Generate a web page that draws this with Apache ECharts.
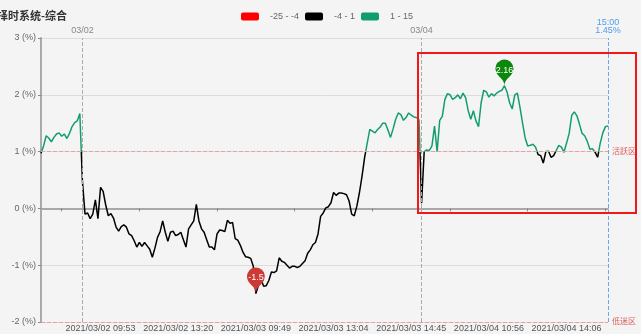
<!DOCTYPE html>
<html>
<head>
<meta charset="utf-8">
<script src="https://cdn.jsdelivr.net/npm/echarts@6/dist/echarts.min.js"></script>
<style>html,body{margin:0;padding:0;background:#f4f4f4;}#c{width:641px;height:334px;}</style>
</head>
<body>
<div id="c"></div>
<script>
// ---- data ----
const t0301 = ['14:09','14:12','14:16','14:19','14:23','14:26','14:29','14:33','14:36','14:40','14:43','14:46','14:50','14:53','14:57','15:00'];
const t0302 = ['09:30','09:33','09:36','09:40','09:43','09:46','09:50','09:53',
  '09:57','10:01','10:05','10:09','10:13','10:17','10:21','10:25','10:29','10:33','10:37','10:41','10:45','10:49','10:53','10:57','11:01','11:05','11:09','11:13','11:17','11:21','11:25','11:29',
  '13:00','13:04','13:08','13:12','13:16','13:20',
  '13:24','13:28','13:32','13:36','13:40','13:44','13:48','13:51','13:55','13:59','14:03','14:07','14:11','14:15','14:19','14:23','14:27','14:31','14:35','14:39','14:43','14:47','14:51','14:54','14:57','15:00'];
const t0303 = ['09:30','09:36','09:43','09:49',
  '09:53','09:56','10:00','10:03','10:07','10:10','10:14','10:17','10:21','10:24','10:28','10:31','10:35','10:38','10:42','10:45','10:49','10:52','10:56','10:59','11:03','11:06','11:10','11:13','11:17','11:20','11:24','11:27',
  '13:00','13:04',
  '13:07','13:11','13:14','13:17','13:21','13:24','13:27','13:31','13:34','13:37','13:41','13:44','13:47','13:51','13:54','13:57','14:01','14:04','14:07','14:11','14:14','14:17','14:21','14:24','14:27','14:31','14:34','14:37','14:41','14:45',
  '14:50','14:55','15:00'];
const t0304 = ['09:30','09:33','09:37','09:40','09:43','09:47','09:50','09:53','09:57','10:00','10:03','10:07','10:10','10:13','10:17','10:20','10:23','10:27','10:30','10:33','10:37','10:40','10:43','10:47','10:50','10:53','10:56',
  '11:00','11:03','11:06','11:10','11:13','11:16','11:20','11:23','11:26','11:30',
  '13:03','13:06','13:10','13:13','13:16','13:20','13:23','13:26','13:30','13:33','13:36','13:40','13:43','13:46','13:50','13:53','13:56','14:00','14:03','14:06',
  '14:09','14:13','14:16','14:20','14:23','14:27','14:30','14:33','14:37','14:40','14:44','14:47','14:50','14:54','14:57','15:00'];

const v0301 = [0.97,1.10,1.28,1.24,1.17,1.25,1.31,1.33,1.27,1.31,1.23,1.32,1.44,1.51,1.54,1.67];
const v0302 = [0.48,-0.10,-0.08,-0.18,-0.10,0.15,-0.18,0.37,0.30,0.06,-0.13,-0.09,-0.17,-0.33,-0.40,-0.32,
  -0.29,-0.33,-0.45,-0.48,-0.57,-0.68,-0.60,-0.67,-0.60,-0.66,-0.72,-0.86,-0.70,-0.51,-0.41,-0.22,
  -0.42,-0.58,-0.42,-0.40,-0.48,-0.46,-0.42,-0.55,-0.68,-0.36,-0.29,-0.22,0.07,-0.22,-0.36,-0.42,
  -0.55,-0.68,-0.68,-0.73,-0.45,-0.38,-0.39,-0.41,-0.21,-0.26,-0.25,-0.53,-0.56,-0.65,-0.77,-0.85];
const v0303 = [-0.86,-0.88,-1.02,-1.50,-1.35,-1.25,-1.37,-1.36,-1.27,-1.12,-1.13,-1.10,-0.87,-0.93,-0.95,-1.00,
  -1.05,-1.02,-1.02,-1.04,-1.02,-0.97,-0.92,-0.79,-0.73,-0.64,-0.60,-0.45,-0.14,-0.08,0.01,0.03,
  0.10,0.28,0.23,0.27,0.27,0.26,0.24,0.13,-0.10,-0.13,0.04,0.28,0.57,0.90,1.15,1.39,
  1.36,1.33,1.39,1.43,1.50,1.50,1.38,1.25,1.40,1.57,1.68,1.65,1.55,1.60,1.68,1.64,1.61,1.60,1.56];
const v0304 = [0.09,1.00,1.03,1.02,1.10,1.45,1.00,1.55,1.62,1.92,2.02,2.00,1.92,1.95,2.00,1.93,
  2.03,1.95,1.72,1.57,1.72,1.54,1.44,1.86,2.08,2.05,1.96,2.02,1.98,2.03,2.06,2.08,
  2.16,2.05,1.86,1.75,2.00,2.03,1.78,1.50,1.24,1.10,1.11,1.13,1.08,0.95,0.93,0.80,
  1.00,1.01,0.90,0.93,1.02,1.11,1.08,0.99,1.15,1.32,1.64,1.70,1.63,1.48,1.32,1.28,
  1.18,1.04,1.05,0.99,0.90,1.15,1.33,1.44,1.45];

const yTicks = [-2, -1, 0, 1, 2, 3];
const pieces = [
  {min: -25, max: -4, color: '#ff0000'},
  {min: -4, max: 1, color: '#000000'},
  {min: 1, max: 15, color: '#129e6c'}
];

// ---- build ----
const categories = [].concat(
  t0301.map(t => '2021/03/01 ' + t),
  t0302.map(t => '2021/03/02 ' + t),
  t0303.map(t => '2021/03/03 ' + t),
  t0304.map(t => '2021/03/04 ' + t)
);
const values = [].concat(v0301, v0302, v0303, v0304);
const lastVal = values[values.length - 1];
const lastCat = categories[categories.length - 1];

const FONT = "'Liberation Sans Narrow','Liberation Sans','Noto Sans CJK SC',sans-serif";
const chart = echarts.init(document.getElementById('c'));
chart.setOption({
  backgroundColor: '#f4f4f4',
  animation: false,
  textStyle: {fontFamily: FONT},
  title: {
    text: '择时系统-综合', left: -8, top: 5,
    textStyle: {fontSize: 11, fontWeight: 'bold', color: '#333', fontFamily: "'Noto Sans CJK SC',sans-serif"}
  },
  visualMap: {
    type: 'piecewise', orient: 'horizontal', left: 226, top: -3,
    seriesIndex: 0, dimension: 1,
    itemWidth: 18, itemHeight: 8, itemGap: 6, textGap: 11,
    textStyle: {fontSize: 9, color: '#666'},
    pieces: pieces
  },
  grid: {left: 41, right: 33, top: 38, bottom: 12},
  xAxis: [{
    type: 'category', data: categories, boundaryGap: false,
    axisLine: {onZero: true, lineStyle: {color: '#a8a8a8', width: 2}},
    axisTick: {show: true, length: 3, interval: (i) => i >= 8 && (i - 8) % 30 === 0, lineStyle: {color: '#888'}},
    axisLabel: {show: false}
  }, {
    type: 'category', data: categories, boundaryGap: false, position: 'bottom',
    axisLine: {show: false, onZero: false}, axisTick: {show: false},
    axisLabel: {interval: (i) => i >= 23 && (i - 23) % 30 === 0, fontSize: 9, color: '#555', margin: 2}
  }],
  yAxis: {
    type: 'value', min: yTicks[0], max: yTicks[yTicks.length - 1], interval: 1,
    axisLine: {show: true, lineStyle: {color: '#aaa', width: 2}},
    axisTick: {show: true, length: 3, lineStyle: {color: '#888'}},
    axisLabel: {formatter: '{value} (%)', fontSize: 9, color: '#666', margin: 5},
    splitLine: {lineStyle: {color: '#dcdcdc'}}
  },
  series: [{
    type: 'line', data: values, xAxisIndex: 0, showSymbol: false,
    lineStyle: {width: 1.5},
    markLine: {
      symbol: 'none', silent: true,
      data: [
        {yAxis: 1, lineStyle: {color: '#e8a0a0', type: 'dashed', width: 1},
          label: {position: 'end', formatter: '活跃区', color: '#e06060', fontSize: 8, distance: 4}},
        {yAxis: -2, lineStyle: {color: '#e8a0a0', type: 'dashed', width: 1},
          label: {position: 'end', formatter: '低迷区', color: '#e06060', fontSize: 8, distance: 4}},
        {xAxis: '2021/03/02 09:30', lineStyle: {color: '#aaa', type: 'dashed', width: 1},
          label: {position: 'end', formatter: '03/02', color: '#888', fontSize: 9, distance: 3}},
        {xAxis: '2021/03/04 09:30', lineStyle: {color: '#aaa', type: 'dashed', width: 1},
          label: {position: 'end', formatter: '03/04', color: '#888', fontSize: 9, distance: 3}},
        {xAxis: lastCat, lineStyle: {color: '#6aa8ea', type: 'dashed', width: 1},
          label: {position: 'end', formatter: lastCat.slice(11) + '\n' + lastVal + '%', color: '#4f9de8', fontSize: 9, lineHeight: 8, distance: 3}}
      ]
    },
    markPoint: {
      symbol: 'pin', symbolSize: 30,
      label: {color: '#fff', fontSize: 9},
      data: [
        {type: 'max', itemStyle: {color: '#0b870b'}},
        {type: 'min', itemStyle: {color: '#cc3a36'}}
      ]
    }
  }],
  graphic: [{
    type: 'rect', z: 100, silent: true,
    shape: {x: 418, y: 53, width: 218, height: 160},
    style: {fill: 'none', stroke: '#f01818', lineWidth: 2}
  }]
});
</script>
</body>
</html>
